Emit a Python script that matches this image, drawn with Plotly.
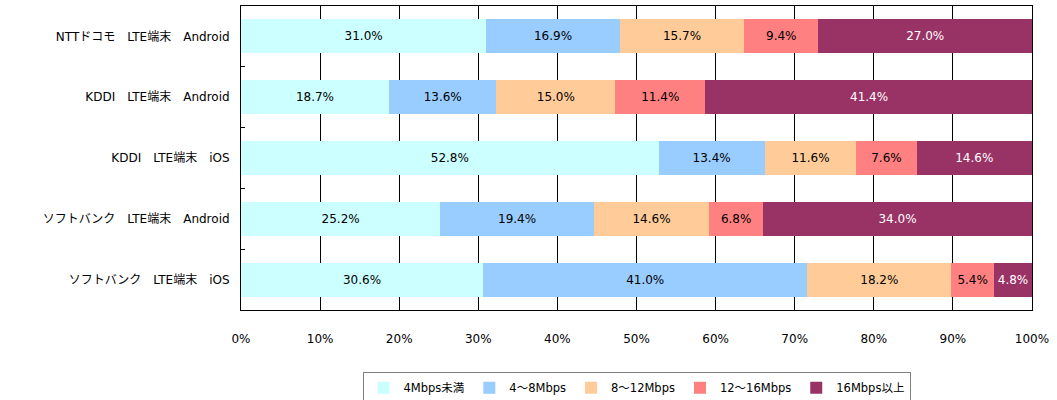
import plotly.graph_objects as go

categories = [
    "NTTドコモ\u3000LTE端末\u3000Android",
    "KDDI\u3000LTE端末\u3000Android",
    "KDDI\u3000LTE端末\u3000iOS",
    "ソフトバンク\u3000LTE端末\u3000Android",
    "ソフトバンク\u3000LTE端末\u3000iOS",
]
series_names = ["4Mbps未満", "4～8Mbps", "8～12Mbps", "12～16Mbps", "16Mbps以上"]
v_lt4 = [31.0, 18.7, 52.8, 25.2, 30.6]
v_4_8 = [16.9, 13.6, 13.4, 19.4, 41.0]
v_8_12 = [15.7, 15.0, 11.6, 14.6, 18.2]
v_12_16 = [9.4, 11.4, 7.6, 6.8, 5.4]
v_ge16 = [27.0, 41.4, 14.6, 34.0, 4.8]
x_ticks = [0, 10, 20, 30, 40, 50, 60, 70, 80, 90, 100]
x_tick_labels = ["0%", "10%", "20%", "30%", "40%", "50%", "60%", "70%", "80%", "90%", "100%"]

values = [v_lt4, v_4_8, v_8_12, v_12_16, v_ge16]
colors = ["#CCFFFF", "#99CCFF", "#FFCC99", "#FF8080", "#993366"]
text_colors = ["#000000", "#000000", "#000000", "#000000", "#FFFFFF"]

FONT = "DejaVu Sans, Noto Sans CJK JP, sans-serif"

fig = go.Figure()
for name, vals, col, tc in zip(series_names, values, colors, text_colors):
    fig.add_trace(go.Bar(
        y=categories, x=vals, name=name, orientation="h",
        marker=dict(color=col, line=dict(width=0)),
        texttemplate="%{x:.1f}%", textposition="inside",
        insidetextanchor="middle", constraintext="none",
        textfont=dict(color=tc, size=12, family=FONT),
        hoverinfo="skip",
    ))

fig.update_layout(
    barmode="stack",
    bargap=0.44,
    width=1057, height=400,
    margin=dict(l=241, r=25, t=6, b=90, autoexpand=False),
    paper_bgcolor="white", plot_bgcolor="white",
    font=dict(family=FONT, size=12, color="#000000"),
    showlegend=True,
    legend=dict(
        orientation="h", x=0.5, xanchor="center", y=-0.205, yanchor="top",
        bordercolor="#808080", borderwidth=1,
        font=dict(size=11.5, family=FONT),
        itemwidth=30, traceorder="normal",
    ),
    uniformtext=dict(minsize=12, mode="show"),
)
fig.update_xaxes(
    range=[0, 100], tickmode="array", tickvals=x_ticks, ticktext=x_tick_labels,
    showgrid=True, gridcolor="#000000", gridwidth=1,
    showline=True, linecolor="#000000", linewidth=1, mirror=True,
    ticks="outside", ticklen=18, tickcolor="rgba(0,0,0,0)",
    zeroline=False, tickfont=dict(size=12), automargin=False,
)
fig.update_yaxes(
    categoryorder="array", categoryarray=categories, autorange="reversed",
    tickson="boundaries", ticks="inside", ticklen=4, tickcolor="#000000",
    showgrid=False, showline=True, linecolor="#000000", linewidth=1, mirror=True,
    ticklabelstandoff=8, tickfont=dict(size=12), automargin=False,
)

fig.write_html(
    "out.html",
    config={"displayModeBar": False, "staticPlot": True},
    post_script="document.body.style.margin='0';document.body.style.padding='0';",
)
